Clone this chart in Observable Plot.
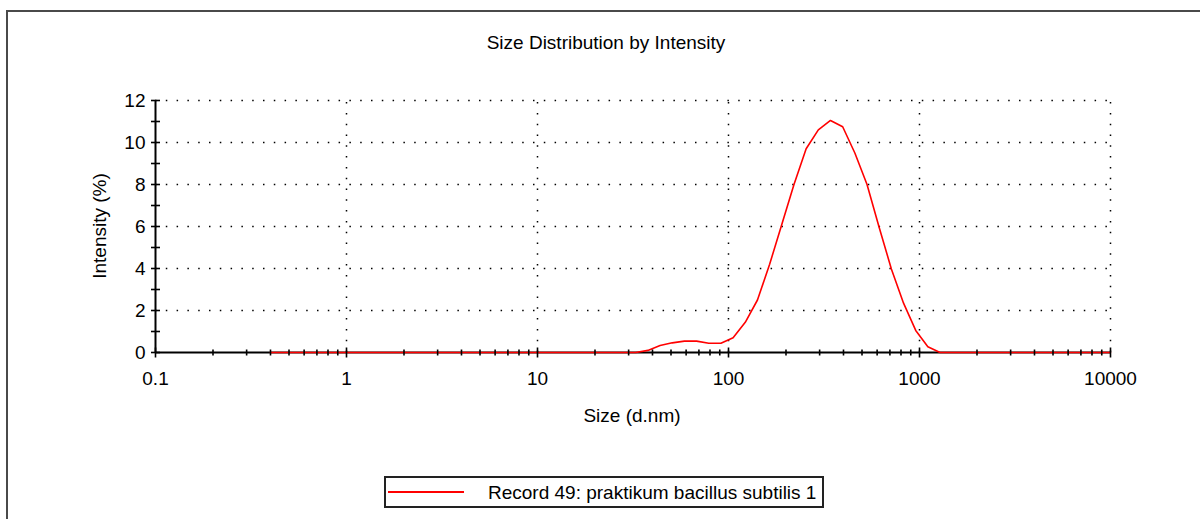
<!DOCTYPE html>
<html>
<head>
<meta charset="utf-8">
<script src="https://cdn.jsdelivr.net/npm/d3@7"></script>
<script src="https://cdn.jsdelivr.net/npm/@observablehq/plot@0.6"></script>
<style>
  html, body { margin: 0; padding: 0; background: #fff; }
  #wrap { position: relative; width: 1200px; height: 519px; overflow: hidden; background: #fff;
          font-family: "Liberation Sans", Arial, sans-serif; color: #000; }
  #border { position: absolute; left: 6px; top: 10px; width: 1300px; height: 600px;
            border-top: 2px solid #4a4a4a; border-left: 2px solid #4a4a4a; }
  #chart { position: absolute; left: 0; top: 0; }
  .txt { position: absolute; font-size: 19px; line-height: 19px; white-space: nowrap; }
  #title { left: 606px; top: 33px; transform: translateX(-50%); }
  #xlabel { left: 632px; top: 406px; transform: translateX(-50%); }
  #ylabel { left: 99px; top: 226px; transform: translate(-50%, -50%) rotate(-90deg); }
  #legend { position: absolute; left: 384px; top: 476px; width: 440px; height: 32px; box-sizing: border-box;
            border: 2px solid #222; background: #fff; }
  #legline { position: absolute; left: 2px; top: 13px; width: 76px; height: 2px; background: #ff0000; }
  #legtext { position: absolute; left: 102px; top: 5px; font-size: 19px; line-height: 19px; white-space: nowrap; }
</style>
</head>
<body>
<div id="wrap">
  <div id="border"></div>
  <div id="chart"></div>
  <div class="txt" id="title"></div>
  <div class="txt" id="xlabel"></div>
  <div class="txt" id="ylabel"></div>
  <div id="legend"><div id="legline"></div><div id="legtext"></div></div>
</div>
<script>
// ---- data ----
const titleText = "Size Distribution by Intensity";
const xLabel = "Size (d.nm)";
const yLabel = "Intensity (%)";
const seriesName = "Record 49: praktikum bacillus subtilis 1";

const sizes = [0.4, 32.67, 37.84, 43.82, 50.75, 58.77, 68.06, 78.82, 91.28, 105.7, 122.4, 141.8, 164.2, 190.1,
               220.2, 255.0, 295.3, 342.0, 396.1, 458.7, 531.2, 615.1, 712.4, 825.0, 955.4, 1106, 1281, 10000];
const intensity = [0, 0, 0.1, 0.33, 0.46, 0.54, 0.54, 0.44, 0.44, 0.7, 1.44, 2.5, 4.2, 6.1,
                   8.0, 9.7, 10.6, 11.05, 10.75, 9.5, 8.0, 5.95, 3.98, 2.35, 1.05, 0.27, 0, 0];

const xMajorTicks = [0.1, 1, 10, 100, 1000, 10000];
const xTickLabels = ["0.1", "1", "10", "100", "1000", "10000"];
const xMinorTicks = [0.2,0.3,0.4,0.5,0.6,0.7,0.8,0.9, 2,3,4,5,6,7,8,9, 20,30,40,50,60,70,80,90,
                     200,300,400,500,600,700,800,900, 2000,3000,4000,5000,6000,7000,8000,9000];
const yMajorTicks = [0, 2, 4, 6, 8, 10, 12];
const yMinorTicks = [1, 3, 5, 7, 9, 11];

// ---- build ----
const data = sizes.map((s, i) => ({size: s, value: intensity[i]}));

const hTick = {draw(ctx, size) { const r = Math.sqrt(size / Math.PI); ctx.moveTo(-r, 0); ctx.lineTo(r, 0); }};
const vTick = {draw(ctx, size) { const r = Math.sqrt(size / Math.PI); ctx.moveTo(0, -r); ctx.lineTo(0, r); }};
const dotted = "1.5,9.3";

const chart = Plot.plot({
  width: 1200,
  height: 519,
  marginLeft: 155,
  marginRight: 90,
  marginTop: 100,
  marginBottom: 167,
  style: {fontFamily: "'Liberation Sans', Arial, sans-serif", fontSize: "19px", color: "#000", background: "transparent", overflow: "visible"},
  x: {type: "log", domain: [xMajorTicks[0], xMajorTicks[xMajorTicks.length - 1]]},
  y: {domain: [yMajorTicks[0], yMajorTicks[yMajorTicks.length - 1]]},
  marks: [
    // dotted grid
    Plot.ruleY(yMajorTicks.slice(1), {stroke: "#000", strokeWidth: 1.5, strokeDasharray: dotted}),
    Plot.ruleX(xMajorTicks.slice(1), {y1: yMajorTicks[0], y2: yMajorTicks[yMajorTicks.length - 1], stroke: "#000", strokeWidth: 1.5, strokeDasharray: dotted}),
    // axis lines
    Plot.ruleY([yMajorTicks[0]], {stroke: "#000", strokeWidth: 2}),
    Plot.ruleX([xMajorTicks[0]], {y1: yMajorTicks[0], y2: yMajorTicks[yMajorTicks.length - 1], stroke: "#000", strokeWidth: 2}),
    // data
    Plot.line(data, {x: "size", y: "value", stroke: "#ff0000", strokeWidth: 1.6}),
    // tick marks crossing the axes
    Plot.dot(yMajorTicks.concat(yMinorTicks), {y: d => d, frameAnchor: "left", r: 4.5, symbol: hTick, stroke: "#000", strokeWidth: 1.6, fill: "none"}),
    Plot.dot(xMinorTicks, {x: d => d, frameAnchor: "bottom", r: 3, symbol: vTick, stroke: "#000", strokeWidth: 1.6, fill: "none"}),
    Plot.dot(xMajorTicks, {x: d => d, frameAnchor: "bottom", r: 5, symbol: vTick, stroke: "#000", strokeWidth: 1.6, fill: "none"}),
    // tick labels
    Plot.axisX(xMajorTicks, {tickSize: 0, tickPadding: 19, fontSize: 19, label: null,
                             tickFormat: d => xTickLabels[xMajorTicks.indexOf(d)]}),
    Plot.axisY(yMajorTicks, {tickSize: 0, tickPadding: 10, fontSize: 19, label: null, tickFormat: d => String(d)})
  ]
});
document.getElementById("chart").appendChild(chart);
document.getElementById("title").textContent = titleText;
document.getElementById("xlabel").textContent = xLabel;
document.getElementById("ylabel").textContent = yLabel;
document.getElementById("legtext").textContent = seriesName;
</script>
</body>
</html>
